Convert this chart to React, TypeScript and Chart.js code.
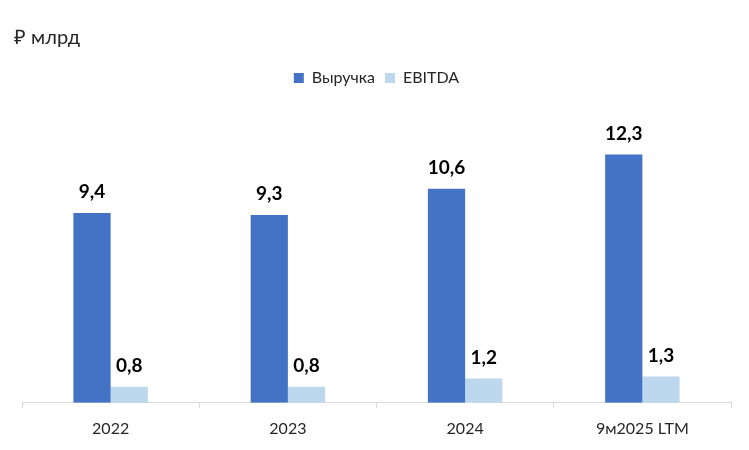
import React, { useEffect, useRef } from "react";
import { Chart, registerables } from "chart.js";

Chart.register(...registerables);

const categories = ["2022", "2023", "2024", "9м2025 LTM"];
const revenue = [9.4, 9.3, 10.6, 12.3];
const ebitda = [0.8, 0.8, 1.2, 1.3];
const seriesNames = ["Выручка", "EBITDA"];
const unitTitle = "₽ млрд";

const FONT = "Lato, 'Open Sans', sans-serif";

const fmt = (v: number) => v.toFixed(1).replace(".", ",");

const labelPlugin = {
  id: "valueLabels",
  afterDatasetsDraw(chart: any) {
    const ctx = chart.ctx;
    ctx.save();
    ctx.font = `bold 19px ${FONT}`;
    ctx.fillStyle = "#000000";
    ctx.textAlign = "center";
    ctx.textBaseline = "alphabetic";
    chart.data.datasets.forEach((ds: any, i: number) => {
      const meta = chart.getDatasetMeta(i);
      meta.data.forEach((bar: any, j: number) => {
        ctx.fillText(fmt(ds.data[j]), bar.x, bar.y - 15);
      });
    });
    ctx.restore();
  },
};

const titlePlugin = {
  id: "unitTitle",
  afterDraw(chart: any) {
    const ctx = chart.ctx;
    ctx.save();
    ctx.font = `20px ${FONT}`;
    ctx.fillStyle = "#262626";
    ctx.textAlign = "left";
    ctx.textBaseline = "middle";
    ctx.fillText(unitTitle, 14, 38);
    ctx.restore();
  },
};

export default function App() {
  const ref = useRef<HTMLCanvasElement>(null);
  useEffect(() => {
    document.body.style.margin = "0";
    const chart = new Chart(ref.current!, {
      type: "bar",
      data: {
        labels: categories,
        datasets: [
          {
            label: seriesNames[0],
            data: revenue,
            backgroundColor: "#4472C4",
            categoryPercentage: 0.42,
            barPercentage: 1,
          },
          {
            label: seriesNames[1],
            data: ebitda,
            backgroundColor: "#BDD7EE",
            categoryPercentage: 0.42,
            barPercentage: 1,
          },
        ],
      },
      options: {
        animation: false,
        responsive: false,
        maintainAspectRatio: false,
        layout: { padding: { left: 22, right: 18, top: 60, bottom: 1 } },
        plugins: {
          legend: {
            position: "top",
            labels: {
              boxWidth: 10,
              boxHeight: 10,
              padding: 10,
              font: { family: FONT, size: 16 },
              color: "#262626",
            },
          },
          tooltip: { enabled: false },
        },
        scales: {
          x: {
            grid: {
              display: true,
              offset: true,
              drawOnChartArea: false,
              drawTicks: true,
              tickLength: 5,
              color: "#D9D9D9",
            },
            border: { display: true, color: "#D9D9D9", width: 1 },
            ticks: {
              font: { family: FONT, size: 16 },
              color: "#262626",
              padding: 11,
            },
          },
          y: {
            display: false,
            min: 0,
            max: 15.2,
          },
        },
      },
      plugins: [labelPlugin, titlePlugin],
    });
    return () => chart.destroy();
  }, []);
  return (
    <div style={{ width: 749, height: 450 }}>
      <canvas ref={ref} width={749} height={450} style={{ display: "block" }} />
    </div>
  );
}
